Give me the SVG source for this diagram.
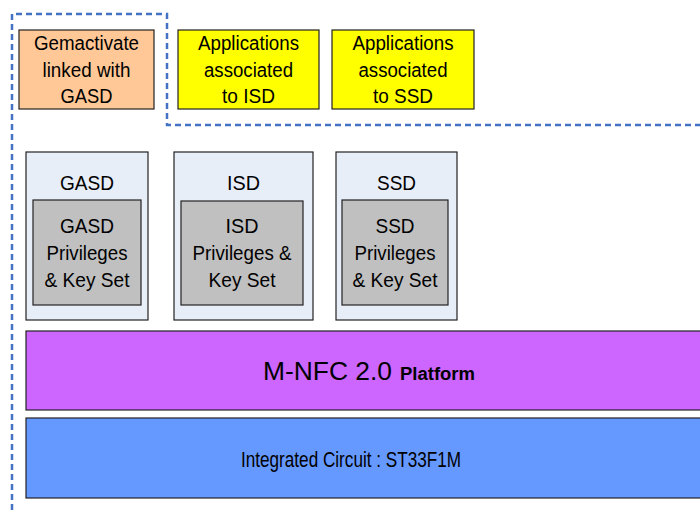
<svg xmlns="http://www.w3.org/2000/svg" width="700" height="510" viewBox="0 0 700 510">
<style>
text{font-family:"Liberation Sans",Arial,sans-serif;font-size:20px;fill:#000;text-anchor:middle}
.box{stroke:#222;stroke-width:1.2}
.app{fill:#FFFF00}
.gem{fill:#FFC896}
.sd{fill:#E8EEF8}
.inner{fill:#C0C0C0}
.dash{fill:none;stroke:#4472C4;stroke-width:2.5;stroke-dasharray:6 4}
</style>
<rect width="700" height="510" fill="#fff"/>
<g id="boundary">
<path class="dash" d="M12,510 L12,14 L167,14 L167,125 L700,125"/>
</g>
<g id="gemactivate">
<rect class="box gem" x="19" y="30" width="135" height="79"/>
<text x="86.5" y="50" textLength="105" lengthAdjust="spacingAndGlyphs">Gemactivate</text>
<text x="86.5" y="77" textLength="88" lengthAdjust="spacingAndGlyphs">linked with</text>
<text x="86.5" y="103" textLength="52" lengthAdjust="spacingAndGlyphs">GASD</text>
</g>
<g id="apps-isd">
<rect class="box app" x="178" y="30" width="141" height="79"/>
<text x="248.5" y="50" textLength="101" lengthAdjust="spacingAndGlyphs">Applications</text>
<text x="248.5" y="77" textLength="89" lengthAdjust="spacingAndGlyphs">associated</text>
<text x="248.5" y="103" textLength="53" lengthAdjust="spacingAndGlyphs">to ISD</text>
</g>
<g id="apps-ssd">
<rect class="box app" x="332" y="30" width="142" height="79"/>
<text x="403" y="50" textLength="101" lengthAdjust="spacingAndGlyphs">Applications</text>
<text x="403" y="77" textLength="89" lengthAdjust="spacingAndGlyphs">associated</text>
<text x="403" y="103" textLength="60" lengthAdjust="spacingAndGlyphs">to SSD</text>
</g>
<g id="gasd">
<rect class="box sd" x="26" y="152" width="122" height="168"/>
<text x="87" y="190" style="font-size:21px" textLength="54" lengthAdjust="spacingAndGlyphs">GASD</text>
<rect class="box inner" x="33" y="200" width="108" height="105"/>
<text x="87" y="233" style="font-size:21px" textLength="54" lengthAdjust="spacingAndGlyphs">GASD</text>
<text x="87" y="260" style="font-size:21px" textLength="81" lengthAdjust="spacingAndGlyphs">Privileges</text>
<text x="87" y="287" style="font-size:21px" textLength="85" lengthAdjust="spacingAndGlyphs">&amp; Key Set</text>
</g>
<g id="isd">
<rect class="box sd" x="174" y="152" width="139" height="168"/>
<text x="243.5" y="190" style="font-size:21px" textLength="33" lengthAdjust="spacingAndGlyphs">ISD</text>
<rect class="box inner" x="181" y="201" width="122" height="104"/>
<text x="242" y="233" style="font-size:21px" textLength="33" lengthAdjust="spacingAndGlyphs">ISD</text>
<text x="242" y="260" style="font-size:21px" textLength="99" lengthAdjust="spacingAndGlyphs">Privileges &amp;</text>
<text x="242" y="287" style="font-size:21px" textLength="67" lengthAdjust="spacingAndGlyphs">Key Set</text>
</g>
<g id="ssd">
<rect class="box sd" x="336" y="152" width="121" height="168"/>
<text x="396.5" y="190" style="font-size:21px" textLength="39" lengthAdjust="spacingAndGlyphs">SSD</text>
<rect class="box inner" x="342" y="200" width="106" height="105"/>
<text x="395" y="233" style="font-size:21px" textLength="39" lengthAdjust="spacingAndGlyphs">SSD</text>
<text x="395" y="260" style="font-size:21px" textLength="81" lengthAdjust="spacingAndGlyphs">Privileges</text>
<text x="395" y="287" style="font-size:21px" textLength="85" lengthAdjust="spacingAndGlyphs">&amp; Key Set</text>
</g>
<g id="platform">
<rect class="box" fill="#CC66FF" x="26" y="331" width="680" height="79"/>
<text x="327.5" y="380" style="font-size:25px" textLength="129" lengthAdjust="spacingAndGlyphs">M-NFC 2.0</text>
<text x="437.5" y="380" style="font-size:18px;font-weight:bold" textLength="75" lengthAdjust="spacingAndGlyphs">Platform</text>
</g>
<g id="ic">
<rect class="box" fill="#6699FF" x="26" y="418" width="680" height="80"/>
<text x="351" y="467" style="font-size:22px" textLength="220" lengthAdjust="spacingAndGlyphs">Integrated Circuit : ST33F1M</text>
</g>
<g id="connectors"></g>
</svg>
